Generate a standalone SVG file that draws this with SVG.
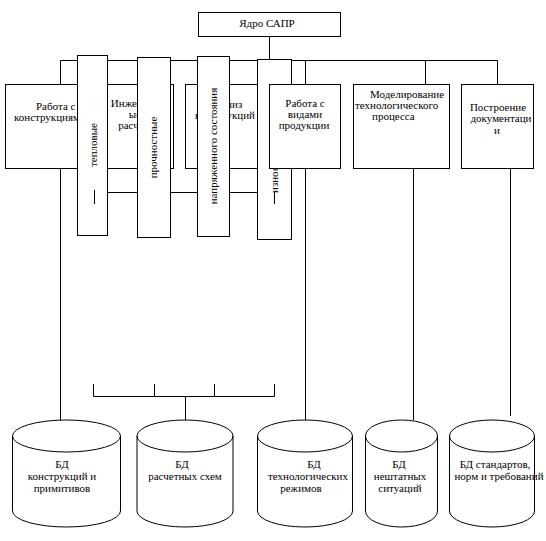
<svg xmlns="http://www.w3.org/2000/svg" width="546" height="541" viewBox="0 0 546 541">
<style>
.b{fill:#fff;stroke:#000;stroke-width:1}
.c{fill:none;stroke:#000;stroke-width:1}
text{font-family:"Liberation Serif","Times New Roman",serif;font-size:11px;fill:#000}
.m{text-anchor:middle}
</style>
<rect width="546" height="541" fill="#fff"/>
<g id="connectors" class="c">
<path d="M269.5 36.5V60.5M60.5 60.5H497.5M60.5 60.5V84.5M305.5 60.5V84.5M425.5 60.5V84.5M497.5 60.5V84.5"/>
<path d="M107.5 192.5H257.5"/>
<path d="M60.5 168.5V420M305.5 168.5V420M413.5 168.5V420M510.5 168.5V416"/>
<path d="M93.5 384V396.5H274.5V384M154.5 384V396.5M214.5 384V396.5M185.5 396.5V420"/>
</g>
<g id="core">
<rect class="b" x="198.5" y="12.5" width="142" height="24"/>
<text class="m" x="267" y="27">Ядро САПР</text>
</g>
<g id="box-constructions">
<rect class="b" x="5.5" y="84.5" width="91" height="84"/>
<text x="36" y="110">Работа с</text>
<text x="14" y="121">конструкциями</text>
</g>
<g id="box-engineering">
<rect class="b" x="96.5" y="84.5" width="77" height="84"/>
<text class="m" x="135" y="107">Инженерн</text>
<text class="m" x="135" y="118">ые</text>
<text class="m" x="137" y="129">расчеты</text>
</g>
<g id="box-analysis">
<rect class="b" x="185.5" y="84.5" width="80" height="84"/>
<text class="m" x="225" y="108">Анализ</text>
<text class="m" x="225" y="119">конструкций</text>
</g>
<g id="strip-thermal">
<rect class="b" x="77.5" y="55.5" width="30" height="180"/>
<text class="m" x="97" y="145" transform="rotate(-90 97 145)">тепловые</text>
</g>
<g id="strip-strength">
<rect class="b" x="137.5" y="57.5" width="33" height="180"/>
<text class="m" x="157" y="147.5" transform="rotate(-90 157 147.5)">прочностные</text>
</g>
<g id="strip-stress">
<rect class="b" x="197.5" y="56.5" width="32" height="180"/>
<text class="m" x="217" y="146" transform="rotate(-90 217 146)">напряженного состояния</text>
</g>
<g id="strip-wear">
<rect class="b" x="257.5" y="59.5" width="34" height="180"/>
<text x="278" y="193" transform="rotate(-90 278 193)">износостойкость</text>
</g>
<g id="box-products">
<rect class="b" x="269.5" y="84.5" width="71" height="84"/>
<text class="m" x="305" y="107">Работа с</text>
<text class="m" x="305" y="118">видами</text>
<text class="m" x="304" y="129">продукции</text>
</g>
<g id="box-modeling">
<rect class="b" x="353.5" y="84.5" width="96" height="84"/>
<text x="370" y="98">Моделирование</text>
<text x="355" y="109">технологического</text>
<text x="372" y="120">процесса</text>
</g>
<g id="box-docs">
<rect class="b" x="461.5" y="84.5" width="72" height="84"/>
<text class="m" x="498" y="111">Построение</text>
<text class="m" x="501" y="122">документаци</text>
<text class="m" x="497" y="134">и</text>
</g>
<g id="ticks" class="c">
<path d="M94.5 190V204M274.5 192V204"/>
</g>
<g id="db-constructions">
<path class="b" d="M12.5 436A54 16 0 0 1 120.5 436V511A54 16 0 0 1 12.5 511Z"/>
<path class="c" d="M12.5 436A54 16 0 0 0 120.5 436"/>
<text class="m" x="62" y="468">БД</text>
<text class="m" x="62" y="480">конструкций и</text>
<text class="m" x="62" y="492">примитивов</text>
</g>
<g id="db-schemes">
<path class="b" d="M137 436A48 16 0 0 1 233 436V511A48 16 0 0 1 137 511Z"/>
<path class="c" d="M137 436A48 16 0 0 0 233 436"/>
<text class="m" x="182" y="468">БД</text>
<text class="m" x="185" y="480">расчетных схем</text>
</g>
<g id="db-modes">
<path class="b" d="M257.5 436A47.5 16 0 0 1 352.5 436V511A47.5 16 0 0 1 257.5 511Z"/>
<path class="c" d="M257.5 436A47.5 16 0 0 0 352.5 436"/>
<text class="m" x="314" y="468">БД</text>
<text class="m" x="308" y="480">технологических</text>
<text class="m" x="301" y="492">режимов</text>
</g>
<g id="db-emergency">
<path class="b" d="M365.5 436A36 16 0 0 1 437.5 436V511A36 16 0 0 1 365.5 511Z"/>
<path class="c" d="M365.5 436A36 16 0 0 0 437.5 436"/>
<text class="m" x="399" y="468">БД</text>
<text class="m" x="400" y="480">нештатных</text>
<text class="m" x="400" y="492">ситуаций</text>
</g>
<g id="db-standards">
<path class="b" d="M449.5 436A42.5 16 0 0 1 534.5 436V511A42.5 16 0 0 1 449.5 511Z"/>
<path class="c" d="M449.5 436A42.5 16 0 0 0 534.5 436"/>
<text class="m" x="495" y="468">БД стандартов,</text>
<text class="m" x="499" y="480">норм и требований</text>
</g>
</svg>
